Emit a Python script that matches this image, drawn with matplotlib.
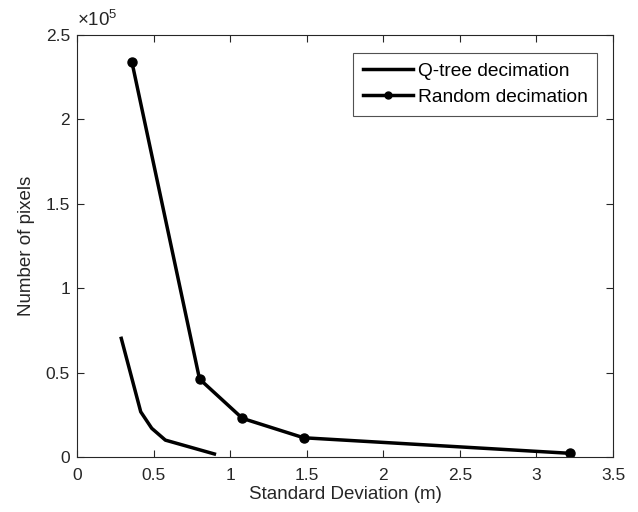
import matplotlib
matplotlib.use("Agg")
import matplotlib.pyplot as plt
import matplotlib.ticker as mticker
from matplotlib.lines import Line2D

plt.rcParams['font.family'] = ['Liberation Sans', 'DejaVu Sans']
plt.rcParams['mathtext.fontset'] = 'custom'
plt.rcParams['mathtext.rm'] = 'Liberation Sans'

# --- data ---
qtree_std = [0.289, 0.416, 0.488, 0.577, 0.897]
qtree_pixels = [70300, 26800, 17000, 10000, 1800]

random_std = [0.359, 0.80, 1.08, 1.48, 3.217]
random_pixels = [233800, 46200, 22900, 11400, 2200]

xticks = [0, 0.5, 1, 1.5, 2, 2.5, 3, 3.5]
yticks = [0, 50000, 100000, 150000, 200000, 250000]
yscale = 1e5

axis_col = '#262626'
txt_col = '#262626'

fig = plt.figure(figsize=(6.38, 5.12), dpi=100)
ax = fig.add_axes([0.1207, 0.1074, 0.8402, 0.8242])

ax.plot(qtree_std, qtree_pixels, color='black', linewidth=2.5)
ax.plot(random_std, random_pixels, color='black', linewidth=2.5, marker='o',
        markersize=6.5)

ax.set_xlim(0, 3.5)
ax.set_ylim(0, 250000)
ax.set_xticks(xticks)
ax.set_yticks(yticks)
ax.xaxis.set_major_formatter(mticker.FuncFormatter(lambda v, p: f"{v:g}"))
ax.yaxis.set_major_formatter(mticker.FuncFormatter(lambda v, p: f"{v / yscale:g}"))

ax.tick_params(direction='in', length=5, width=0.8, colors=axis_col,
               labelsize=12.5, top=True, right=True, labelcolor=txt_col)
ax.tick_params(axis='x', pad=8)
ax.tick_params(axis='y', pad=5)
for s in ax.spines.values():
    s.set_color(axis_col)
    s.set_linewidth(0.8)

# MATLAB-style exponent label above the y axis
ax.text(0.0, 1.012, r'$\times$10$^{5}$', transform=ax.transAxes, fontsize=13.5,
        color=txt_col, ha='left', va='bottom')

ax.set_xlabel('Standard Deviation (m)', fontsize=13.5, color=txt_col, labelpad=2)
ax.set_ylabel('Number of pixels', fontsize=13.5, color=txt_col, labelpad=8)

handles = [
    Line2D([], [], color='black', linewidth=2.5),
    Line2D([], [], color='black', linewidth=2.5, marker='o', markersize=5),
]
leg = ax.legend(handles, ['Q-tree decimation', 'Random decimation'],
                loc='upper right', bbox_to_anchor=(0.970, 0.957),
                fontsize=13.8, frameon=True, fancybox=False,
                edgecolor=axis_col, borderaxespad=0.0, handlelength=2.6,
                handletextpad=0.25, labelspacing=0.45, borderpad=0.5)
leg.get_frame().set_linewidth(0.8)

fig.savefig('out.png', dpi=100)
